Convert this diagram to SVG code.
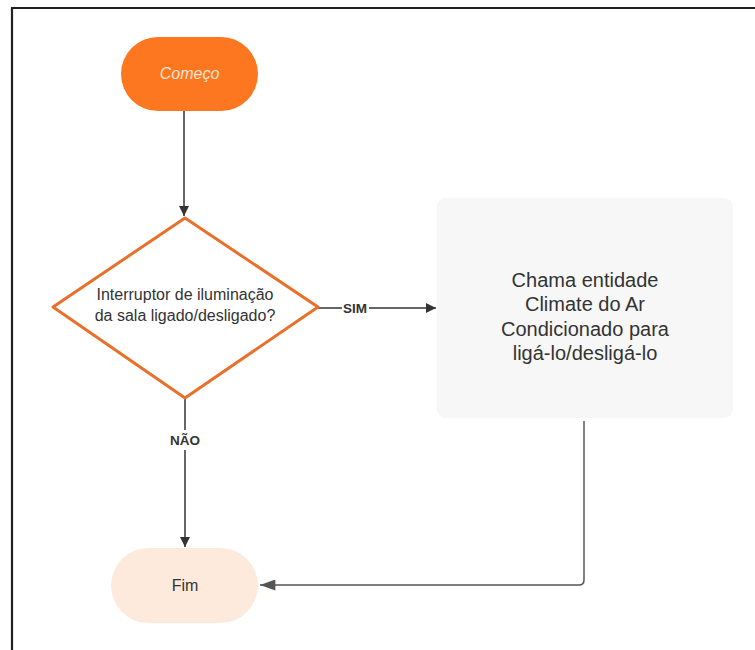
<svg xmlns="http://www.w3.org/2000/svg" width="755" height="650" viewBox="0 0 755 650">
<style>
text{font-family:"Liberation Sans",Arial,sans-serif;text-anchor:middle}
.lbl{font-size:16px;fill:#333}
.edge{fill:none;stroke:#333;stroke-width:1.5}
.elbl{font-size:13.5px;font-weight:bold;fill:#333}
</style>
<defs>
<marker id="ah" viewBox="0 0 10 10" refX="10" refY="5" markerWidth="10" markerHeight="10" markerUnits="userSpaceOnUse" orient="auto">
<path d="M0,0 L10,5 L0,10 z" fill="#333"/>
</marker>
<marker id="ah2" viewBox="0 0 14 10" refX="14" refY="5" markerWidth="16" markerHeight="11" markerUnits="userSpaceOnUse" orient="auto">
<path d="M0,0 L14,5 L0,10 z" fill="#555"/>
</marker>
</defs>
<rect width="755" height="650" fill="#fff"/>
<path d="M12,650 V8 H755" fill="none" stroke="#222" stroke-width="2.2"/>
<g id="connectors">
<line class="edge" x1="184" y1="111" x2="184" y2="216" marker-end="url(#ah)"/>
<line class="edge" x1="318" y1="308" x2="342" y2="308"/>
<line class="edge" x1="369" y1="308" x2="436" y2="308" marker-end="url(#ah)"/>
<text class="elbl" x="355" y="313">SIM</text>
<line class="edge" x1="185" y1="398" x2="185" y2="430"/>
<line class="edge" x1="185" y1="450" x2="185" y2="547" marker-end="url(#ah)"/>
<text class="elbl" x="185" y="445">NÃO</text>
<path d="M584,421 V580 Q584,585 579,585 H260" fill="none" stroke="#555" stroke-width="1.5" marker-end="url(#ah2)"/>
</g>
<g id="start">
<rect x="121" y="37" width="137" height="74" rx="37" fill="#fd7720"/>
<text x="189.5" y="79" style="font-size:16px;font-style:italic;fill:#fbe4d3">Começo</text>
</g>
<g id="decision">
<path d="M185,218 L318,307 L185,398 L53,307 Z" fill="#fff" stroke="#e8702a" stroke-width="3" stroke-linejoin="round"/>
<text class="lbl" x="185" y="300">Interruptor de iluminação</text>
<text class="lbl" x="185" y="321">da sala ligado/desligado?</text>
</g>
<g id="action">
<rect x="437" y="198" width="296" height="220" rx="9" fill="#f7f7f7"/>
<text x="585" y="287" style="font-size:20px;fill:#333">Chama entidade</text>
<text x="585" y="311" style="font-size:20px;fill:#333">Climate do Ar</text>
<text x="585" y="336" style="font-size:20px;fill:#333">Condicionado para</text>
<text x="585" y="360" style="font-size:20px;fill:#333">ligá-lo/desligá-lo</text>
</g>
<g id="end">
<rect x="111" y="548" width="147" height="75" rx="37.5" fill="#fdeadd"/>
<text class="lbl" x="185" y="591">Fim</text>
</g>
</svg>
